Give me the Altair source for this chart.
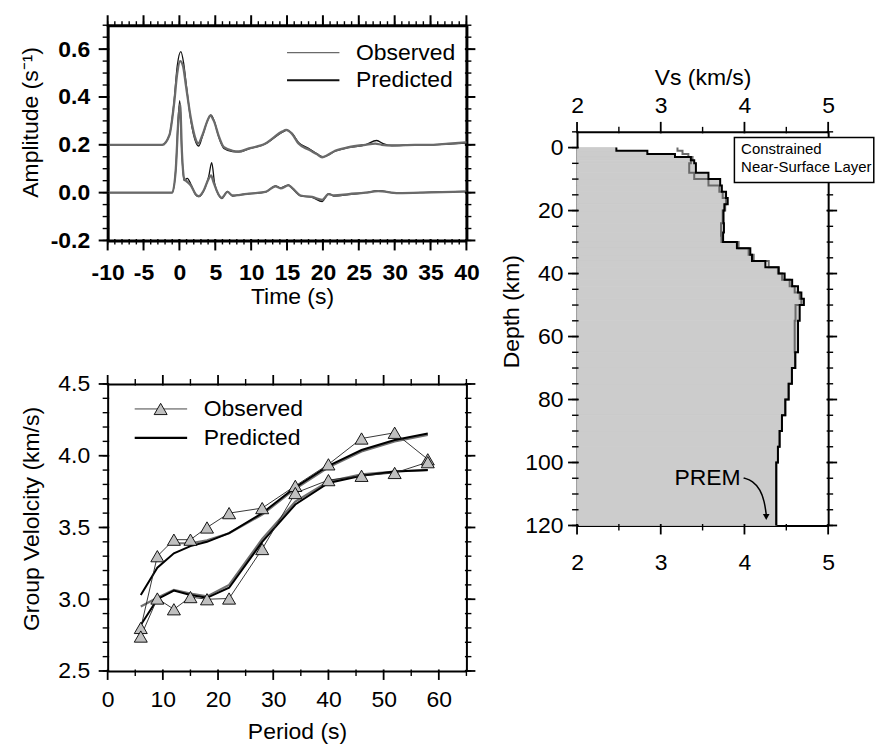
import altair as alt
import pandas as pd

FONT = "Liberation Sans"
FS = 23

# ---------------- Panel 1: waveforms ----------------
t_obs1 = [-10, -2.4, -1.4, -0.75, -0.3, 0.1, 0.5, 0.9, 1.6, 2.3, 2.6, 3.2, 3.9, 4.3, 4.8, 5.5, 6.2, 7.4, 8.3, 9.7,
          12.0, 12.9, 14.3, 14.9, 15.7, 16.6, 18.0, 19.2, 19.9, 20.6, 21.7, 23.6, 25.9, 27.3, 28.2, 29.6, 32.8, 35.1, 37.5, 40]
a_obs1 = [0.2, 0.2, 0.24, 0.37, 0.50, 0.55, 0.53, 0.45, 0.31, 0.22, 0.205, 0.24, 0.30, 0.322, 0.30, 0.235, 0.19, 0.175, 0.172, 0.185,
          0.205, 0.225, 0.255, 0.262, 0.245, 0.205, 0.18, 0.16, 0.148, 0.156, 0.175, 0.19, 0.2, 0.205, 0.2, 0.197, 0.2, 0.2, 0.205, 0.21]
t_pre1 = [-10, -2.4, -1.4, -0.75, -0.3, 0.2, 0.6, 1.0, 1.6, 2.3, 2.7, 3.2, 3.9, 4.4, 4.9, 5.5, 6.2, 7.4, 8.3, 9.7,
          12.0, 12.9, 14.3, 15.0, 15.7, 16.6, 18.0, 19.2, 20.0, 20.6, 21.7, 23.6, 25.9, 27.5, 28.4, 29.6, 32.8, 35.1, 37.5, 40]
a_pre1 = [0.2, 0.2, 0.24, 0.38, 0.53, 0.59, 0.54, 0.44, 0.30, 0.21, 0.195, 0.235, 0.30, 0.325, 0.295, 0.23, 0.185, 0.172, 0.17, 0.183,
          0.205, 0.222, 0.252, 0.26, 0.248, 0.21, 0.185, 0.162, 0.15, 0.155, 0.173, 0.188, 0.2, 0.218, 0.205, 0.197, 0.199, 0.2, 0.203, 0.207]
t_obs2 = [-10, -1.0, -0.5, -0.15, 0.1, 0.35, 0.65, 1.1, 1.6, 2.3, 2.7, 3.4, 4.1, 4.4, 4.8, 5.5, 5.9, 6.7, 7.4, 8.3, 9.7,
          12.0, 13.4, 14.1, 15.2, 15.7, 16.9, 18.5, 19.9, 20.8, 21.5, 23.6, 25.9, 27.7, 30.5, 35.1, 40]
a_obs2 = [0, 0, 0.10, 0.30, 0.37, 0.17, 0.06, 0.045, 0.03, -0.008, -0.015, 0.01, 0.06, 0.072, 0.04, -0.01, -0.022, 0.003, -0.012, -0.01, -0.004,
          0.003, 0.026, 0.018, 0.03, 0.02, -0.012, -0.018, -0.03, -0.006, -0.012, -0.006, 0, 0.006, -0.002, 0.001, 0.004]
t_pre2 = [-10, -1.0, -0.5, -0.15, 0.05, 0.35, 0.65, 1.1, 1.6, 2.3, 2.7, 3.4, 4.1, 4.5, 4.9, 5.5, 5.9, 6.7, 7.4, 8.3, 9.7,
          12.0, 13.4, 14.1, 15.2, 15.7, 16.9, 18.5, 19.9, 20.8, 21.5, 23.6, 25.9, 27.7, 30.5, 35.1, 40]
a_pre2 = [0, 0, 0.10, 0.32, 0.385, 0.16, 0.05, 0.06, 0.035, -0.01, -0.017, 0.008, 0.07, 0.125, 0.04, -0.012, -0.025, 0.005, -0.014, -0.01, -0.005,
          0.002, 0.028, 0.02, 0.032, 0.018, -0.014, -0.02, -0.037, -0.004, -0.014, -0.008, 0, 0.008, -0.003, 0.002, 0.005]

# ---------------- Panel 2: group velocity ----------------
periods = [6, 9, 12, 15, 18, 22, 28, 34, 40, 46, 52, 58]
obs_upper = [2.80, 3.30, 3.415, 3.415, 3.50, 3.60, 3.635, 3.79, 3.94, 4.12, 4.16, 3.975]
obs_lower = [2.74, 3.005, 2.93, 3.015, 3.00, 3.005, 3.35, 3.74, 3.83, 3.86, 3.88, 3.955]
pred_upper_black = [3.03, 3.22, 3.32, 3.37, 3.40, 3.46, 3.60, 3.78, 3.93, 4.04, 4.11, 4.155]
periods_upper_gray = [12, 15, 18, 22, 28, 34, 40, 46, 52, 58]
pred_upper_gray = [3.39, 3.39, 3.41, 3.46, 3.59, 3.77, 3.92, 4.03, 4.10, 4.145]
pred_lower_black = [2.82, 3.00, 3.06, 3.03, 3.01, 3.08, 3.40, 3.66, 3.81, 3.86, 3.89, 3.90]
pred_lower_gray = [2.95, 3.01, 3.065, 3.04, 3.02, 3.10, 3.42, 3.68, 3.82, 3.87, 3.89, 3.90]

# ---------------- Panel 3: Vs profile ----------------
black_top = [0, 1, 2, 3, 4, 5, 8, 10, 12, 14, 16, 18, 20, 24, 27, 30, 32, 34, 36, 38, 40, 42, 44, 46, 48, 50, 55, 65, 70, 75, 80, 85, 90, 95, 100]
black_vs = [2.47, 2.84, 3.17, 3.36, 3.40, 3.42, 3.57, 3.71, 3.73, 3.78, 3.80, 3.76, 3.75, 3.755, 3.745, 3.91, 4.07, 4.09, 4.25, 4.41,
            4.48, 4.57, 4.64, 4.68, 4.71, 4.66, 4.64, 4.607, 4.567, 4.528, 4.488, 4.448, 4.42, 4.40, 4.38]
gray_top = [0, 1, 2, 3, 4, 5, 8, 10, 12, 14, 16, 18, 20, 24, 28, 30, 32, 34, 36, 38, 40, 42, 44, 46, 48, 50, 55, 65, 70, 75, 80, 85, 90, 95, 100]
gray_vs = [3.20, 3.26, 3.33, 3.38, 3.36, 3.34, 3.40, 3.57, 3.70, 3.74, 3.78, 3.77, 3.74, 3.72, 3.725, 3.93, 4.05, 4.11, 4.29, 4.40,
           4.45, 4.54, 4.60, 4.66, 4.68, 4.61, 4.60, 4.607, 4.567, 4.528, 4.488, 4.448, 4.42, 4.40, 4.38]
max_depth = 120

legend_labels = ["Observed", "Predicted"]
box_lines = ["Constrained", "Near-Surface Layer"]
prem_label = "PREM"


# ---------------- helpers ----------------
def fix_minus(expr="datum.label"):
    return "replace(" + expr + ", '\u2212', '-')"


def axis(orient, values, labels=False, domain=True, dw=2, **kw):
    d = dict(orient=orient, values=values, tickSize=0, ticks=False, labels=labels, domain=domain,
             grid=False, title=None)
    if domain:
        d.update(domainWidth=dw)
    d.update(kw)
    return alt.Axis(**d)


def axis_layer(xs, ys, xaxis, yaxis, x0, y0):
    df = pd.DataFrame({"x": [x0], "y": [y0]})
    return alt.Chart(df).mark_point(opacity=0).encode(
        x=alt.X("x:Q", scale=xs, axis=xaxis),
        y=alt.Y("y:Q", scale=ys, axis=yaxis),
    )


def tick_layer(vals, scale, oscale, edge, per_px, length, vertical, width=1.4):
    """Frame ticks as short rules running from just inside the frame edge outward (data units).
    per_px = data units per pixel in the outward direction (signed)."""
    n = len(vals)
    df = pd.DataFrame({"v": vals, "e0": [edge - per_px * 1.5] * n, "e1": [edge + per_px * length] * n})
    m = alt.Chart(df).mark_rule(strokeWidth=width)
    if vertical:
        return m.encode(x=alt.X("v:Q", scale=scale, axis=None),
                        y=alt.Y("e0:Q", scale=oscale, axis=None), y2="e1:Q",
                        color=alt.value("#000000"))
    return m.encode(y=alt.Y("v:Q", scale=scale, axis=None),
                    x=alt.X("e0:Q", scale=oscale, axis=None), x2="e1:Q",
                    color=alt.value("#000000"))


def frange(a, b, s):
    n = int(round((b - a) / s))
    return [round(a + i * s, 6) for i in range(n + 1)]


# ---------------- Panel 1 ----------------
W1, H1 = 360, 216
X1D, Y1D = [-10, 40], [-0.2, 0.7]
xs1 = alt.Scale(domain=X1D, nice=False, zero=False)
ys1 = alt.Scale(domain=Y1D, nice=False, zero=False)
kx1 = (X1D[1] - X1D[0]) / W1
ky1 = (Y1D[1] - Y1D[0]) / H1

rows = []
for t, a in zip(t_obs1, a_obs1):
    rows.append({"t": t, "a": a, "trace": "1", "kind": "Observed"})
for t, a in zip(t_obs2, a_obs2):
    rows.append({"t": t, "a": a, "trace": "2", "kind": "Observed"})
for t, a in zip(t_pre1, a_pre1):
    rows.append({"t": t, "a": a, "trace": "1", "kind": "Predicted"})
for t, a in zip(t_pre2, a_pre2):
    rows.append({"t": t, "a": a, "trace": "2", "kind": "Predicted"})
wave = pd.DataFrame(rows)

x1_major = axis("bottom", frange(-10, 40, 5), labels=True, dw=3, labelFontWeight="bold",
                labelExpr=fix_minus(), labelPadding=21, title="Time (s)", titlePadding=1,
                titleX=185, labelFlush=False)
y1_major = axis("left", frange(-0.2, 0.6, 0.2), labels=True, dw=3, labelFontWeight="bold",
                format=".1f", labelExpr=fix_minus(), labelPadding=18,
                title="Amplitude (s\u207b\u00b9)", titlePadding=8, titleY=97, labelFlush=False)

pred_lines = alt.Chart(wave[wave.kind == "Predicted"]).mark_line(
    color="#111111", strokeWidth=1.3, interpolate="monotone"
).encode(
    x=alt.X("t:Q", scale=xs1, axis=x1_major),
    y=alt.Y("a:Q", scale=ys1, axis=y1_major),
    detail="trace:N",
)
obs_lines = alt.Chart(wave[wave.kind == "Observed"]).mark_line(
    color="#6a6a6a", strokeWidth=2.3, interpolate="monotone"
).encode(
    x=alt.X("t:Q", scale=xs1, axis=None),
    y=alt.Y("a:Q", scale=ys1, axis=None),
    detail="trace:N",
)

leg1 = pd.DataFrame({
    "label": legend_labels,
    "x0": [15.0, 15.0], "x1": [22.3, 22.3], "xt": [24.6, 24.6],
    "y": [0.585, 0.47],
    "col": ["#6a6a6a", "#111111"], "w": [1.2, 2.2],
})
leg1_lines = alt.Chart(leg1).mark_rule().encode(
    x=alt.X("x0:Q", scale=xs1, axis=None), x2="x1:Q",
    y=alt.Y("y:Q", scale=ys1, axis=None),
    color=alt.Color("col:N", scale=None), strokeWidth=alt.StrokeWidth("w:Q", scale=None),
)
leg1_text = alt.Chart(leg1).mark_text(align="left", baseline="middle", fontSize=FS, font=FONT, color="black").encode(
    x=alt.X("xt:Q", scale=xs1, axis=None), y=alt.Y("y:Q", scale=ys1, axis=None), text="label:N")

x1_maj_t, x1_min_t = frange(-10, 40, 5), frange(-10, 40, 1)
y1_maj_t, y1_min_t = frange(-0.2, 0.6, 0.2), frange(-0.2, 0.7, 0.05)

p1 = alt.layer(
    pred_lines, obs_lines, leg1_lines, leg1_text,
    tick_layer(x1_maj_t, xs1, ys1, Y1D[0], -ky1, 10, True, 2),
    tick_layer(x1_min_t, xs1, ys1, Y1D[0], -ky1, 4, True),
    tick_layer(x1_maj_t, xs1, ys1, Y1D[1], ky1, 10, True, 2),
    tick_layer(x1_min_t, xs1, ys1, Y1D[1], ky1, 4, True),
    tick_layer(y1_maj_t, ys1, xs1, X1D[0], -kx1, 9, False, 2),
    tick_layer(y1_min_t, ys1, xs1, X1D[0], -kx1, 5, False),
    tick_layer(y1_maj_t, ys1, xs1, X1D[1], kx1, 9, False, 2),
    tick_layer(y1_min_t, ys1, xs1, X1D[1], kx1, 5, False),
    axis_layer(xs1, ys1, axis("top", x1_maj_t, dw=3), axis("right", y1_maj_t, dw=3), 0, 0),
).resolve_axis(x="independent", y="independent").properties(width=W1, height=H1)

# ---------------- Panel 2 ----------------
W2, H2 = 360, 288
X2D, Y2D = [0, 65], [2.5, 4.5]
xs2 = alt.Scale(domain=X2D, nice=False, zero=False)
ys2 = alt.Scale(domain=Y2D, nice=False, zero=False)
kx2 = (X2D[1] - X2D[0]) / W2
ky2 = (Y2D[1] - Y2D[0]) / H2

obs_rows = []
for i, (p, v) in enumerate(zip(periods, obs_upper)):
    obs_rows.append({"p": p, "v": v, "s": "upper", "i": i})
for i, (p, v) in enumerate(zip(periods, obs_lower)):
    obs_rows.append({"p": p, "v": v, "s": "lower", "i": i})
obs_df = pd.DataFrame(obs_rows)

pred_rows = []
for p, v in zip(periods, pred_upper_black):
    pred_rows.append({"p": p, "v": v, "s": "ub", "c": "black"})
for p, v in zip(periods, pred_lower_black):
    pred_rows.append({"p": p, "v": v, "s": "lb", "c": "black"})
for p, v in zip(periods_upper_gray, pred_upper_gray):
    pred_rows.append({"p": p, "v": v, "s": "ug", "c": "gray"})
for p, v in zip(periods, pred_lower_gray):
    pred_rows.append({"p": p, "v": v, "s": "lg", "c": "gray"})
pred_df = pd.DataFrame(pred_rows)

x2_maj_t, x2_min_t = frange(0, 60, 10), frange(5, 65, 10)
y2_maj_t, y2_min_t = frange(2.5, 4.5, 0.5), frange(2.5, 4.5, 0.1)

x2_major = axis("bottom", x2_maj_t, labels=True, dw=2, labelPadding=18,
                title="Period (s)", titlePadding=9, titleX=190, labelFlush=False)
y2_major = axis("left", y2_maj_t, labels=True, dw=2, format=".1f", labelPadding=18,
                title="Group Velolcity (km/s)", titlePadding=14, titleY=135, labelFlush=False)

gray_pred = alt.Chart(pred_df[pred_df.c == "gray"]).mark_line(color="#707070", strokeWidth=2.2).encode(
    x=alt.X("p:Q", scale=xs2, axis=x2_major),
    y=alt.Y("v:Q", scale=ys2, axis=y2_major),
    detail="s:N",
)
black_pred = alt.Chart(pred_df[pred_df.c == "black"]).mark_line(color="black", strokeWidth=2).encode(
    x=alt.X("p:Q", scale=xs2, axis=None),
    y=alt.Y("v:Q", scale=ys2, axis=None),
    detail="s:N",
)
obs_conn = alt.Chart(obs_df).mark_line(color="#222222", strokeWidth=0.9).encode(
    x=alt.X("p:Q", scale=xs2, axis=None),
    y=alt.Y("v:Q", scale=ys2, axis=None),
    detail="s:N", order="i:Q",
)
obs_pts = alt.Chart(obs_df).mark_point(shape="triangle-up", size=170, filled=True, fill="#c0c0c0",
                                       stroke="black", strokeWidth=0.9, opacity=1).encode(
    x=alt.X("p:Q", scale=xs2, axis=None),
    y=alt.Y("v:Q", scale=ys2, axis=None),
)

leg2 = pd.DataFrame({
    "label": legend_labels,
    "x0": [4.9, 4.9], "x1": [14.4, 14.4], "xm": [9.6, 9.6], "xt": [17.4, 17.4],
    "y": [4.326, 4.125],
    "col": ["#444444", "#000000"], "w": [1.0, 2.2],
})
leg2_lines = alt.Chart(leg2).mark_rule().encode(
    x=alt.X("x0:Q", scale=xs2, axis=None), x2="x1:Q",
    y=alt.Y("y:Q", scale=ys2, axis=None),
    color=alt.Color("col:N", scale=None), strokeWidth=alt.StrokeWidth("w:Q", scale=None),
)
leg2_tri = alt.Chart(leg2[leg2.label == "Observed"]).mark_point(
    shape="triangle-up", size=170, filled=True, fill="#c0c0c0", stroke="black", strokeWidth=0.9, opacity=1
).encode(x=alt.X("xm:Q", scale=xs2, axis=None), y=alt.Y("y:Q", scale=ys2, axis=None))
leg2_text = alt.Chart(leg2).mark_text(align="left", baseline="middle", fontSize=FS, font=FONT, color="black").encode(
    x=alt.X("xt:Q", scale=xs2, axis=None), y=alt.Y("y:Q", scale=ys2, axis=None), text="label:N")

p2 = alt.layer(
    gray_pred, black_pred, obs_conn, obs_pts, leg2_lines, leg2_tri, leg2_text,
    tick_layer(x2_maj_t, xs2, ys2, Y2D[0], -ky2, 9, True, 1.8),
    tick_layer(x2_min_t, xs2, ys2, Y2D[0], -ky2, 5, True),
    tick_layer(x2_maj_t, xs2, ys2, Y2D[1], ky2, 9, True, 1.8),
    tick_layer(x2_min_t, xs2, ys2, Y2D[1], ky2, 5, True),
    tick_layer(y2_maj_t, ys2, xs2, X2D[0], -kx2, 9, False, 1.8),
    tick_layer(y2_min_t, ys2, xs2, X2D[0], -kx2, 5, False),
    tick_layer(y2_maj_t, ys2, xs2, X2D[1], kx2, 9, False, 1.8),
    tick_layer(y2_min_t, ys2, xs2, X2D[1], kx2, 5, False),
    axis_layer(xs2, ys2, axis("top", x2_maj_t, dw=2), axis("right", y2_maj_t, dw=2), 10, 3),
).resolve_axis(x="independent", y="independent").properties(width=W2, height=H2)

# ---------------- Panel 3 ----------------
W3, H3 = 252, 395
X3D, Y3D = [2, 5], [-5, 120]
xs3 = alt.Scale(domain=X3D, nice=False, zero=False)
ys3 = alt.Scale(domain=Y3D, nice=False, zero=False, reverse=True)
kx3 = (X3D[1] - X3D[0]) / W3
ky3 = (Y3D[1] - Y3D[0]) / H3


def step_vertices(tops, vals, name):
    out = []
    k = 0
    for i, (d, v) in enumerate(zip(tops, vals)):
        bot = tops[i + 1] if i + 1 < len(tops) else max_depth
        out.append({"v": v, "d": d, "m": name, "i": k}); k += 1
        out.append({"v": v, "d": bot, "m": name, "i": k}); k += 1
    return out


fill_df = pd.DataFrame({
    "d0": black_top,
    "d1": black_top[1:] + [max_depth],
    "v": black_vs,
    "v0": [2.0] * len(black_vs),
})
gray_df = pd.DataFrame(step_vertices(gray_top, gray_vs, "gray"))
black_df = pd.DataFrame(step_vertices(black_top, black_vs, "black"))

x3_maj_t, x3_min_t = [2, 3, 4, 5], [2.5, 3.5, 4.5]
y3_maj_t, y3_min_t = frange(0, 120, 20), frange(-5, 120, 5)

x3_top = axis("top", x3_maj_t, labels=True, dw=2, labelPadding=14,
              title="Vs (km/s)", titlePadding=6, labelFlush=False)
y3_left = axis("left", y3_maj_t, labels=True, dw=2, labelPadding=14,
               title="Depth (km)", titlePadding=1, titleY=180, labelFlush=False)

fill = alt.Chart(fill_df).mark_rect(color="#cccccc", stroke="#cccccc", strokeWidth=0.8).encode(
    x=alt.X("v0:Q", scale=xs3, axis=x3_top), x2="v:Q",
    y=alt.Y("d0:Q", scale=ys3, axis=y3_left), y2="d1:Q",
)
black_line = alt.Chart(black_df).mark_line(color="black", strokeWidth=2).encode(
    x=alt.X("v:Q", scale=xs3, axis=None), y=alt.Y("d:Q", scale=ys3, axis=None), order="i:Q")
gray_line = alt.Chart(gray_df).mark_line(color="#6a6a6a", strokeWidth=2).encode(
    x=alt.X("v:Q", scale=xs3, axis=None), y=alt.Y("d:Q", scale=ys3, axis=None), order="i:Q")

box_df = pd.DataFrame({"x0": [3.88], "x1": [5.545], "y0": [-3.2], "y1": [11.1]})
box = alt.Chart(box_df).mark_rect(fill="white", stroke="black", strokeWidth=1.5).encode(
    x=alt.X("x0:Q", scale=xs3, axis=None), x2="x1:Q",
    y=alt.Y("y0:Q", scale=ys3, axis=None), y2="y1:Q")
box_txt_df = pd.DataFrame({"t": box_lines, "x": [3.96, 3.96], "y": [0.6, 6.3]})
box_txt = alt.Chart(box_txt_df).mark_text(align="left", baseline="middle", fontSize=15, font=FONT, color="black").encode(
    x=alt.X("x:Q", scale=xs3, axis=None), y=alt.Y("y:Q", scale=ys3, axis=None), text="t:N")

prem_txt = alt.Chart(pd.DataFrame({"t": [prem_label], "x": [3.56], "y": [104.8]})).mark_text(
    align="center", baseline="middle", fontSize=FS, font=FONT, color="black").encode(
    x=alt.X("x:Q", scale=xs3, axis=None), y=alt.Y("y:Q", scale=ys3, axis=None), text="t:N")
arrow_df = pd.DataFrame({"x": [3.99, 4.10, 4.19, 4.24, 4.26], "y": [104.9, 105.8, 108.6, 112.5, 116.5], "i": [0, 1, 2, 3, 4]})
arrow = alt.Chart(arrow_df).mark_line(color="black", strokeWidth=1.5, interpolate="basis").encode(
    x=alt.X("x:Q", scale=xs3, axis=None), y=alt.Y("y:Q", scale=ys3, axis=None), order="i:Q")
head = alt.Chart(pd.DataFrame({"x": [4.26], "y": [117.3]})).mark_point(
    shape="triangle-down", size=45, filled=True, color="black", opacity=1).encode(
    x=alt.X("x:Q", scale=xs3, axis=None), y=alt.Y("y:Q", scale=ys3, axis=None))

p3 = alt.layer(
    fill, gray_line, black_line,
    tick_layer(x3_maj_t, xs3, ys3, Y3D[1], ky3, 9, True, 1.8),
    tick_layer(x3_min_t, xs3, ys3, Y3D[1], ky3, 5, True),
    tick_layer(x3_maj_t, xs3, ys3, Y3D[0], -ky3, 10, True, 1.8),
    tick_layer(x3_min_t, xs3, ys3, Y3D[0], -ky3, 5, True),
    tick_layer(y3_maj_t, ys3, xs3, X3D[0], -kx3, 9, False, 1.8),
    tick_layer(y3_min_t, ys3, xs3, X3D[0], -kx3, 5, False),
    tick_layer(y3_maj_t, ys3, xs3, X3D[1], kx3, 9, False, 1.8),
    tick_layer(y3_min_t, ys3, xs3, X3D[1], kx3, 5, False),
    box, box_txt, prem_txt, arrow, head,
    axis_layer(xs3, ys3, axis("bottom", x3_maj_t, labels=True, dw=2, labelPadding=26, labelFlush=False),
               axis("right", y3_maj_t, dw=2), 3, 50),
).resolve_axis(x="independent", y="independent").properties(width=W3, height=H3)

spacer = alt.Chart(pd.DataFrame({"x": [0], "y": [0]})).mark_point(opacity=0).encode(
    x=alt.X("x:Q", axis=None), y=alt.Y("y:Q", axis=None)
).properties(width=10, height=41, view=alt.ViewBackground(fill="white"))

left = alt.vconcat(p1, p2, spacing=144, bounds="flush")
right = alt.vconcat(spacer, p3, spacing=0)

chart = alt.hconcat(left, right, spacing=21).properties(
    padding={"left": 11, "top": 5, "right": 0, "bottom": 0}
).configure_view(stroke=None).configure_axis(
    labelFont=FONT, titleFont=FONT, labelFontSize=FS, titleFontSize=FS,
    titleFontWeight="normal", labelColor="black", titleColor="black",
    domainColor="black",
).configure_text(font=FONT)

chart.save("out.html", embed_options={"renderer": "svg", "actions": False})
